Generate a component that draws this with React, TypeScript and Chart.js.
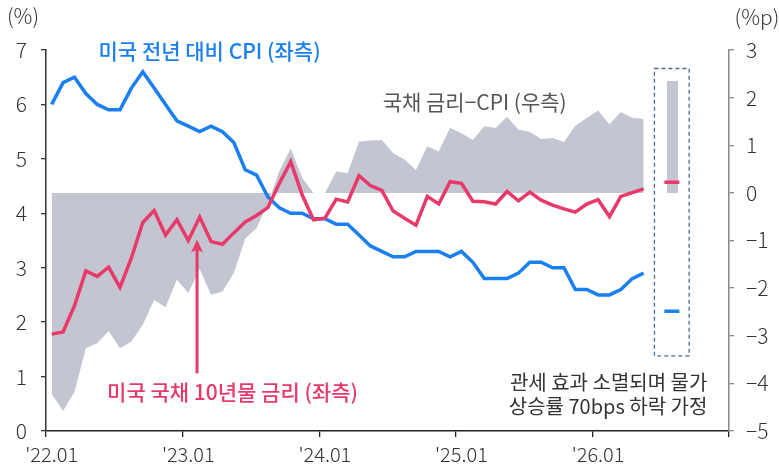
import { useEffect, useRef } from 'react';
import { Chart, registerables } from 'chart.js';

Chart.register(...registerables);

// Months 2022.01 .. 2026.05 (each point sits in the middle of its month slot)
const months = [
  '2022.01','2022.02','2022.03','2022.04','2022.05','2022.06','2022.07','2022.08','2022.09','2022.10','2022.11','2022.12',
  '2023.01','2023.02','2023.03','2023.04','2023.05','2023.06','2023.07','2023.08','2023.09','2023.10','2023.11','2023.12',
  '2024.01','2024.02','2024.03','2024.04','2024.05','2024.06','2024.07','2024.08','2024.09','2024.10','2024.11','2024.12',
  '2025.01','2025.02','2025.03','2025.04','2025.05','2025.06','2025.07','2025.08','2025.09','2025.10','2025.11','2025.12',
  '2026.01','2026.02','2026.03','2026.04','2026.05',
];

const xTickLabels = ["'22.01", "'23.01", "'24.01", "'25.01", "'26.01", ''];

// US CPI YoY (%), left axis
const cpi = [
  6.0, 6.4, 6.5, 6.2, 6.0, 5.9, 5.9, 6.3, 6.6, 6.3,
  6.0, 5.7, 5.6, 5.5, 5.6, 5.5, 5.3, 4.8, 4.7, 4.3,
  4.1, 4.0, 4.0, 3.9, 3.9, 3.8, 3.8, 3.6, 3.4, 3.3,
  3.2, 3.2, 3.3, 3.3, 3.3, 3.2, 3.3, 3.1, 2.8, 2.8,
  2.8, 2.9, 3.1, 3.1, 3.0, 3.0, 2.6, 2.6, 2.5, 2.5,
  2.6, 2.8, 2.9,
];

// US 10Y Treasury yield (%), left axis
const yield10 = [
  1.78, 1.82, 2.3, 2.94, 2.84, 3.01, 2.64, 3.18, 3.83, 4.05,
  3.6, 3.88, 3.5, 3.93, 3.48, 3.43, 3.64, 3.84, 3.96, 4.11,
  4.55, 4.95, 4.34, 3.88, 3.91, 4.26, 4.21, 4.69, 4.51, 4.42,
  4.04, 3.91, 3.78, 4.31, 4.17, 4.58, 4.55, 4.22, 4.21, 4.17,
  4.4, 4.23, 4.39, 4.24, 4.15, 4.08, 4.02, 4.17, 4.25, 3.94,
  4.31, 4.38, 4.45,
];

// Yield - CPI (%p), right axis
const spread = [
  -4.22, -4.58, -4.18, -3.26, -3.16, -2.9, -3.26, -3.12, -2.77, -2.25,
  -2.4, -1.82, -2.1, -1.6, -2.14, -2.07, -1.68, -0.96, -0.74, -0.22,
  0.46, 0.93, 0.32, 0, 0, 0.45, 0.41, 1.08, 1.1, 1.11,
  0.83, 0.7, 0.48, 0.98, 0.87, 1.37, 1.25, 1.11, 1.4, 1.36,
  1.6, 1.33, 1.28, 1.13, 1.15, 1.07, 1.41, 1.57, 1.73, 1.44,
  1.7, 1.58, 1.55,
];

// Scenario (tariff effect fades, CPI 70bp lower)
const scenarioCpi = [2.2];
const scenarioYield = [4.57];
const scenarioSpread = [2.35];
const scenarioSlot = [54.32, 55.64]; // month-slot span of the scenario marks
const scenarioBarSlot = [54.53, 55.55];
const scenarioBoxX = [53.45, 56.5];
const scenarioBoxY = [6.66, 1.38];

const labelCpi = '미국 전년 대비 CPI (좌측)';
const labelSpread = '국채 금리−CPI (우측)';
const labelYield = '미국 국채 10년물 금리 (좌측)';
const noteLines = ['관세 효과 소멸되며 물가', '상승률 70bps 하락 가정'];

const BLUE = '#1a7ff0';
const PINK = '#e8396a';
const GRAY = '#c3c5d1';
const FONT = '"Noto Sans CJK KR", "Noto Sans", sans-serif';

const toPts = (arr: number[]) => arr.map((v, i) => ({ x: i + 0.5, y: v }));

const annotations = {
  id: 'annotations',
  afterDatasetsDraw(chart: any) {
    const { ctx, scales } = chart;
    const x = scales.x;
    const y = scales.y;
    ctx.save();

    // dashed scenario box
    const bx0 = x.getPixelForValue(scenarioBoxX[0]);
    const bx1 = x.getPixelForValue(scenarioBoxX[1]);
    const by0 = y.getPixelForValue(scenarioBoxY[0]);
    const by1 = y.getPixelForValue(scenarioBoxY[1]);
    ctx.setLineDash([4, 3]);
    ctx.strokeStyle = '#4d6a8f';
    ctx.lineWidth = 1.3;
    ctx.strokeRect(bx0, by0, bx1 - bx0, by1 - by0);
    ctx.setLineDash([]);

    // arrow pointing to the yield line
    const ax = x.getPixelForValue(13.27);
    const ayBottom = y.getPixelForValue(1.06);
    const ayTip = y.getPixelForValue(3.52);
    ctx.strokeStyle = PINK;
    ctx.fillStyle = PINK;
    ctx.lineWidth = 3;
    ctx.beginPath();
    ctx.moveTo(ax, ayBottom);
    ctx.lineTo(ax, ayTip + 8);
    ctx.stroke();
    ctx.beginPath();
    ctx.moveTo(ax, ayTip);
    ctx.lineTo(ax - 6, ayTip + 13);
    ctx.lineTo(ax, ayTip + 10);
    ctx.lineTo(ax + 6, ayTip + 13);
    ctx.closePath();
    ctx.fill();

    // series labels
    ctx.textBaseline = 'middle';
    ctx.textAlign = 'center';
    ctx.font = `500 21px ${FONT}`;
    ctx.fillStyle = BLUE;
    ctx.fillText(labelCpi, x.getPixelForValue(14.37), y.getPixelForValue(6.99));
    ctx.fillStyle = PINK;
    ctx.fillText(labelYield, x.getPixelForValue(16.39), y.getPixelForValue(0.71));
    ctx.font = `21px ${FONT}`;
    ctx.fillStyle = '#555';
    ctx.fillText(labelSpread, x.getPixelForValue(37.66), y.getPixelForValue(6.05));

    // note
    ctx.textAlign = 'right';
    ctx.font = `20px ${FONT}`;
    ctx.fillStyle = '#333';
    ctx.fillText(noteLines[0], x.getPixelForValue(58.1), y.getPixelForValue(0.9));
    ctx.fillText(noteLines[1], x.getPixelForValue(58.1), y.getPixelForValue(0.45));

    ctx.restore();
  },
  afterDraw(chart: any) {
    const { ctx, scales } = chart;
    ctx.save();
    ctx.font = `300 21px ${FONT}`;
    ctx.fillStyle = '#333';
    ctx.textBaseline = 'middle';
    ctx.textAlign = 'center';
    ctx.fillText('(%)', scales.y.left + 23, 16);
    ctx.fillText('(%p)', scales.y1.left + 28, 17);
    ctx.restore();
  },
};

export default function App() {
  const ref = useRef<HTMLCanvasElement | null>(null);

  useEffect(() => {
    if (!ref.current) return;
    const tickFont = { family: FONT, size: 21, weight: '300' };
    const chart = new Chart(ref.current, {
      type: 'line',
      data: {
        labels: months,
        datasets: [
          {
            label: 'scenario yield',
            data: scenarioSlot.map((sx) => ({ x: sx, y: scenarioYield[0] })),
            yAxisID: 'y',
            borderColor: PINK,
            borderWidth: 3.5,
            borderCapStyle: 'butt',
            pointRadius: 0,
            fill: false,
            order: 0,
          },
          {
            label: 'scenario cpi',
            data: scenarioSlot.map((sx) => ({ x: sx, y: scenarioCpi[0] })),
            yAxisID: 'y',
            borderColor: BLUE,
            borderWidth: 3.5,
            borderCapStyle: 'butt',
            pointRadius: 0,
            fill: false,
            order: 0,
          },
          {
            label: 'yield',
            data: toPts(yield10),
            yAxisID: 'y',
            borderColor: PINK,
            borderWidth: 3.5,
            borderJoinStyle: 'miter',
            pointRadius: 0,
            tension: 0,
            fill: false,
            order: 1,
          },
          {
            label: 'cpi',
            data: toPts(cpi),
            yAxisID: 'y',
            borderColor: BLUE,
            borderWidth: 3.5,
            borderJoinStyle: 'miter',
            pointRadius: 0,
            tension: 0,
            fill: false,
            order: 2,
          },
          {
            label: 'scenario spread',
            data: scenarioBarSlot.map((sx) => ({ x: sx, y: scenarioSpread[0] })),
            yAxisID: 'y1',
            borderWidth: 0,
            borderColor: 'rgba(0,0,0,0)',
            backgroundColor: GRAY,
            pointRadius: 0,
            fill: 'origin',
            order: 3,
          },
          {
            label: 'spread',
            data: toPts(spread),
            yAxisID: 'y1',
            borderWidth: 0,
            borderColor: 'rgba(0,0,0,0)',
            backgroundColor: GRAY,
            pointRadius: 0,
            tension: 0,
            fill: 'origin',
            order: 4,
          },
        ],
      },
      options: {
        animation: false,
        responsive: true,
        maintainAspectRatio: false,
        layout: { padding: { top: 50, left: 0, right: 0, bottom: 0 } },
        plugins: {
          legend: { display: false },
          tooltip: { enabled: false },
        },
        scales: {
          x: {
            type: 'linear',
            min: 0,
            max: 60,
            afterFit: (s: any) => { s.height = 36; },
            afterBuildTicks: (s: any) => {
              s.ticks = [0, 12, 24, 36, 48, 60].map((v) => ({ value: v }));
            },
            ticks: {
              autoSkip: false,
              maxRotation: 0,
              minRotation: 0,
              labelOffset: 5.7,
              padding: 5,
              color: '#333',
              font: { ...tickFont, size: 20 },
              callback: (v: any) => xTickLabels[Math.round(Number(v) / 12)] ?? '',
            },
            grid: { drawOnChartArea: false, drawTicks: true, tickLength: 6, color: '#222', lineWidth: 1.3 },
            border: { display: true, color: '#222', width: 1.5 },
          },
          y: {
            position: 'left',
            min: 0,
            max: 7,
            afterFit: (s: any) => { s.width = 46; },
            ticks: {
              stepSize: 1,
              padding: 14,
              color: '#333',
              font: tickFont,
            },
            grid: { drawOnChartArea: false, drawTicks: true, tickLength: 5, color: '#333', lineWidth: 1.3 },
            border: { display: true, color: '#333', width: 1.5 },
          },
          y1: {
            position: 'right',
            min: -5,
            max: 3,
            afterFit: (s: any) => { s.width = 50; },
            ticks: {
              stepSize: 1,
              padding: 12,
              color: '#333',
              font: tickFont,
              callback: (v: any) => (Number(v) < 0 ? '−' + Math.abs(Number(v)) : String(v)),
            },
            grid: { drawOnChartArea: false, drawTicks: true, tickLength: 5, color: '#888', lineWidth: 1.3 },
            border: { display: true, color: '#888', width: 1.5 },
          },
        },
      } as any,
      plugins: [annotations],
    });
    return () => chart.destroy();
  }, []);

  return (
    <div style={{ position: 'fixed', left: 0, top: 0, width: 779, height: 467, background: '#fff' }}>
      <canvas ref={ref} />
    </div>
  );
}
